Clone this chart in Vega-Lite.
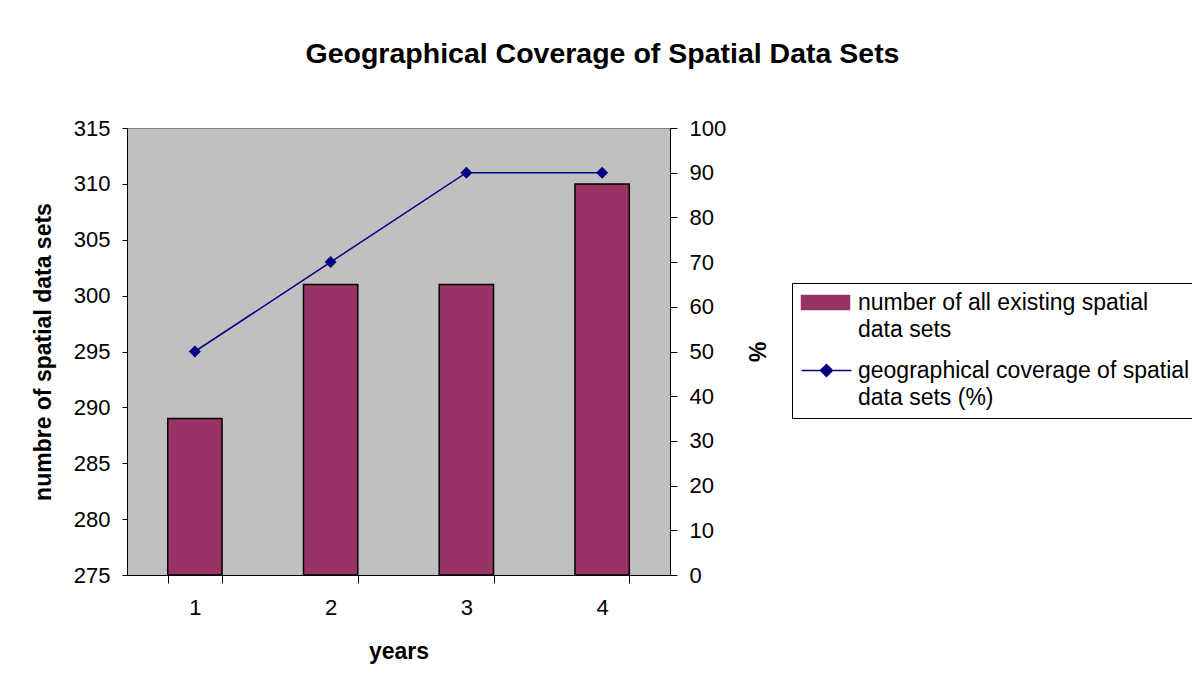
{
  "$schema": "https://vega.github.io/schema/vega-lite/v6.json",
  "width": 543,
  "height": 447,
  "autosize": {"type": "none"},
  "padding": {"left": 127, "top": 128, "right": 522, "bottom": 107},
  "background": "white",
  "title": {
    "text": "Geographical Coverage of Spatial Data Sets",
    "font": "Liberation Sans",
    "fontSize": 28.5,
    "fontWeight": "bold",
    "color": "black",
    "anchor": "middle",
    "dx": 204,
    "offset": 49
  },
  "data": {
    "values": [
      {"year": "1", "count": 289, "pct": 50},
      {"year": "2", "count": 301, "pct": 70},
      {"year": "3", "count": 301, "pct": 90},
      {"year": "4", "count": 310, "pct": 90}
    ]
  },
  "encoding": {
    "x": {
      "field": "year",
      "type": "ordinal",
      "title": "years",
      "scale": {"paddingInner": 0.6, "paddingOuter": 0.3},
      "axis": {
        "labelAngle": 0,
        "tickBand": "extent",
        "tickSize": 8,
        "tickColor": "black",
        "domainColor": "black",
        "labelFont": "Liberation Sans",
        "labelFontSize": 22,
        "labelColor": "black",
        "labelPadding": 14,
        "titleFont": "Liberation Sans",
        "titleFontSize": 23,
        "titleFontWeight": "bold",
        "titleColor": "black",
        "titlePadding": 22
      }
    }
  },
  "layer": [
    {
      "mark": {"type": "bar", "stroke": "black", "strokeWidth": 1.5},
      "encoding": {
        "y": {
          "field": "count",
          "type": "quantitative",
          "title": "numbre of spatial data sets",
          "scale": {"domain": [275, 315], "zero": false, "nice": false},
          "axis": {
            "values": [275, 280, 285, 290, 295, 300, 305, 310, 315],
            "grid": false,
            "tickSize": 5,
            "tickColor": "black",
            "domainColor": "black",
            "labelFont": "Liberation Sans",
            "labelFontSize": 22,
            "labelColor": "black",
            "labelPadding": 12,
            "titleFont": "Liberation Sans",
            "titleFontSize": 23,
            "titleFontWeight": "bold",
            "titleColor": "black",
            "titlePadding": 18
          }
        },
        "y2": {"datum": 275},
        "color": {
          "datum": "number of all existing spatial data sets",
          "type": "nominal",
          "scale": {
            "domain": ["number of all existing spatial data sets", "geographical coverage of spatial data sets (%)"],
            "range": ["#993366", "#000080"]
          },
          "legend": {
            "orient": "none",
            "legendX": 665,
            "legendY": 155,
            "title": null,
            "strokeColor": "black",
            "fillColor": "white",
            "padding": 8,
            "labelFont": "Liberation Sans",
            "labelFontSize": 23,
            "labelColor": "black",
            "labelLimit": 500,
            "labelOffset": 35,
            "rowPadding": 17,
            "symbolSize": 400,
            "symbolStrokeColor": "black",
            "labelExpr": "datum.label == 'number of all existing spatial data sets' ? ['number of all existing spatial', 'data sets'] : ['geographical coverage of spatial', 'data sets (%)']",
            "encoding": {
              "symbols": {
                "shape": {"condition": {"test": "datum.value == 'number of all existing spatial data sets'", "value": "M-1,-0.7L3.8,-0.7L3.8,0.7L-1,0.7Z"}, "value": "M-1,0L4,0M1.5,-0.6L2.1,0L1.5,0.6L0.9,0Z"},
                "fill": {"condition": {"test": "datum.value == 'number of all existing spatial data sets'", "value": "#993366"}, "value": "#000080"},
                "stroke": {"condition": {"test": "datum.value == 'number of all existing spatial data sets'", "value": "black"}, "value": "#000080"},
                "strokeWidth": {"value": 1.5},
                "opacity": {"value": 1}
              },
              "labels": {
                "lineHeight": {"value": 27}
              }
            }
          }
        }
      }
    },
    {
      "mark": {
        "type": "line",
        "strokeWidth": 1.5,
        "point": {"shape": "diamond", "size": 144, "filled": true, "color": "#000080"}
      },
      "encoding": {
        "y": {
          "field": "pct",
          "type": "quantitative",
          "title": "%",
          "scale": {"domain": [0, 100], "nice": false},
          "axis": {
            "orient": "right",
            "values": [0, 10, 20, 30, 40, 50, 60, 70, 80, 90, 100],
            "grid": false,
            "tickSize": 7,
            "tickColor": "black",
            "domainColor": "black",
            "labelFont": "Liberation Sans",
            "labelFontSize": 22,
            "labelColor": "black",
            "labelPadding": 12,
            "titleFont": "Liberation Sans",
            "titleFontSize": 23,
            "titleFontWeight": "bold",
            "titleColor": "black",
            "titlePadding": 18
          }
        },
        "color": {
          "datum": "geographical coverage of spatial data sets (%)",
          "type": "nominal"
        }
      }
    }
  ],
  "resolve": {"scale": {"y": "independent"}},
  "config": {
    "view": {"fill": "#C0C0C0", "stroke": "#808080", "strokeWidth": 1}
  }
}
